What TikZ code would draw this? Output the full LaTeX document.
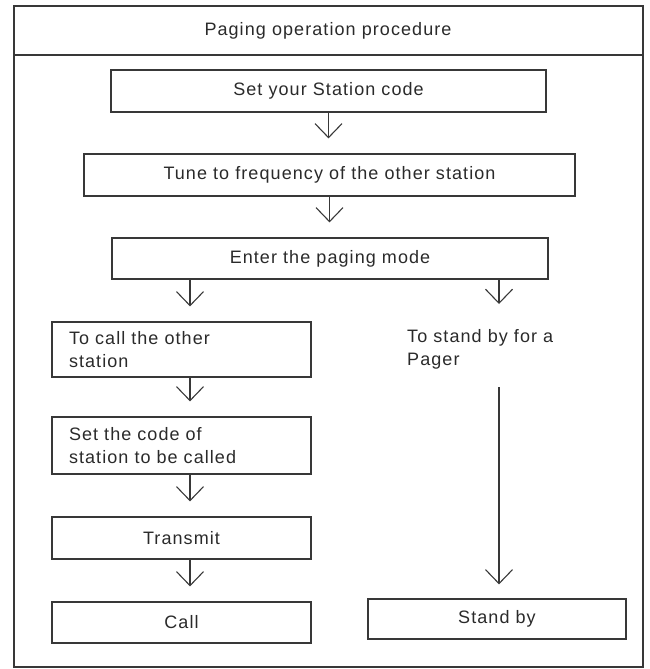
\documentclass[tikz,border=0pt]{standalone}
\usepackage{fontspec}
\setmainfont{Liberation Sans}[LetterSpace=6]
\usetikzlibrary{arrows.meta}
\definecolor{ink}{HTML}{383838}
\definecolor{txt}{HTML}{2A2A2A}
\begin{document}
\begin{tikzpicture}[x=1pt,y=-1pt,
  every node/.style={font=\fontsize{18}{23}\selectfont, text=txt},
  box/.style={draw=ink, line width=1.2pt, inner sep=0pt},
  lbox/.style={box, align=left, text width=225pt, inner xsep=17pt, minimum width=259pt},
  arr/.style={draw=ink, line width=1.1pt, -{Straight Barb[length=14pt,width=27pt,line width=1.1pt]}, shorten >=15pt}
]
\useasboundingbox (0,0) rectangle (649,669);
% frame and header
\node[draw=ink, line width=1.3pt, minimum width=629pt, minimum height=661pt, inner sep=0pt] (frame) at (328.5,336.5) {};
\coordinate (hl) at (0,55);
\draw[ink, line width=1.3pt] (frame.west |- hl) -- (frame.east |- hl);
\node (title) at (328,31) {Paging operation procedure};
% main column
\node[box, minimum width=435pt, minimum height=42pt] (b1) at (328.5,91) {Set your Station code};
\node[box, minimum width=491pt, minimum height=42pt] (b2) at (329.5,175) {Tune to frequency of the other station};
\node[box, minimum width=436pt, minimum height=41pt] (b3) at (330,258.5) {Enter the paging mode};
% left column
\node[lbox, minimum height=55pt] (b4) at (181.5,349.5) {To call the other\\station};
\node[lbox, minimum height=57pt] (b5) at (181.5,445.5) {Set the code of\\station to be called};
\node[box, minimum width=259pt, minimum height=42pt] (b6) at (181.5,538) {Transmit};
\node[box, minimum width=259pt, minimum height=41pt] (b7) at (181.5,622.5) {Call};
% right column
\node[anchor=north west, align=left, inner sep=0pt] (pager) at (407,329) {To stand by for a\\Pager};
\node[box, minimum width=258pt, minimum height=40pt] (b8) at (497,619) {Stand by};
% arrows
\coordinate (lx) at (190,0);
\coordinate (rx) at (499,0);
\draw[arr] (b1.south) -- (b1.south |- b2.north);
\draw[arr] (b2.south) -- (b2.south |- b3.north);
\draw[arr] (b3.south -| lx) -- (b4.north -| lx);
\draw[arr] (b4.south -| lx) -- (b5.north -| lx);
\draw[arr] (b5.south -| lx) -- (b6.north -| lx);
\draw[arr] (b6.south -| lx) -- (b7.north -| lx);
\draw[arr, shorten >=25pt] (b3.south -| rx) -- (pager.north -| rx);
\draw[arr, shorten <=18pt, shorten >=14pt] (pager.south -| rx) -- (b8.north -| rx);
\end{tikzpicture}
\end{document}
